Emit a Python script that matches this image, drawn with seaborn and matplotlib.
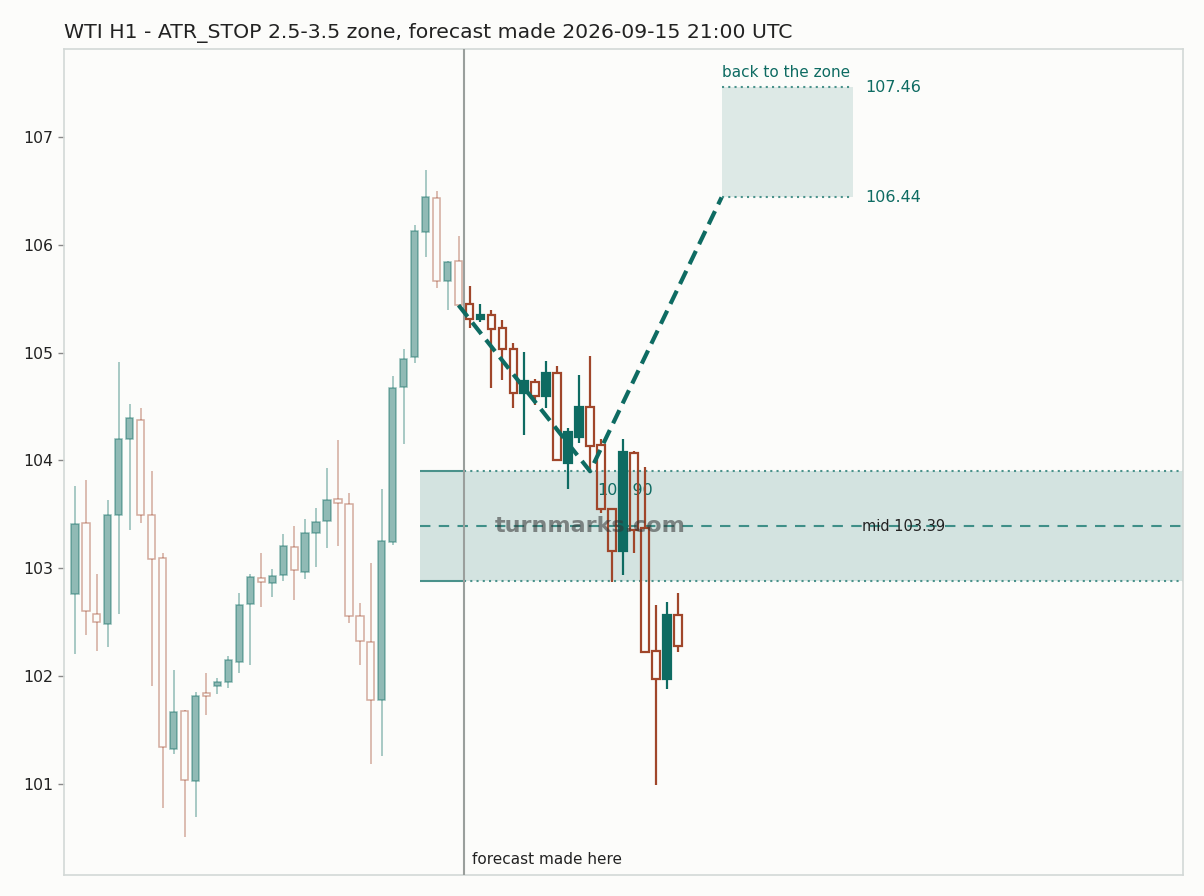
import numpy as np
import pandas as pd
import seaborn as sns
import matplotlib.pyplot as plt
from matplotlib.patches import Rectangle
import matplotlib.transforms as mtransforms

# history candles (36 bars, H1)
h_open = [102.76, 103.42, 102.58, 102.48, 103.49, 104.20, 104.38, 103.49, 103.10, 101.32,
          101.68, 101.03, 101.84, 101.91, 101.95, 102.13, 102.67, 102.91, 102.86, 102.94,
          103.20, 102.97, 103.33, 103.44, 103.64, 103.60, 102.56, 102.32, 101.78, 103.24,
          104.68, 104.96, 106.12, 106.43, 105.66, 105.85]
h_high = [103.76, 103.82, 102.95, 103.63, 104.91, 104.52, 104.49, 103.90, 103.14, 102.06,
          101.69, 101.85, 102.03, 101.98, 102.19, 102.77, 102.95, 103.14, 102.99, 103.32,
          103.39, 103.46, 103.56, 103.93, 104.19, 103.70, 102.68, 103.05, 103.74, 104.78,
          105.03, 106.18, 106.69, 106.50, 105.85, 106.08]
h_low = [102.21, 102.38, 102.23, 102.27, 102.58, 103.36, 103.42, 101.91, 100.78, 101.28,
         100.51, 100.69, 101.64, 101.83, 101.89, 102.03, 102.10, 102.64, 102.73, 102.88,
         102.71, 102.90, 103.01, 103.19, 103.21, 102.49, 102.10, 101.19, 101.26, 103.22,
         104.15, 104.90, 105.89, 105.60, 105.40, 105.42]
h_close = [103.41, 102.60, 102.50, 103.49, 104.20, 104.39, 103.49, 103.09, 101.34, 101.67,
           101.04, 101.82, 101.82, 101.95, 102.15, 102.66, 102.92, 102.87, 102.93, 103.21,
           102.98, 103.33, 103.43, 103.63, 103.61, 102.56, 102.33, 101.78, 103.25, 104.67,
           104.94, 106.13, 106.44, 105.66, 105.84, 105.44]

# candles after the forecast time (20 bars)
f_open = [105.45, 105.31, 105.35, 105.23, 105.03, 104.63, 104.73, 104.60, 104.81, 103.98,
          104.22, 104.50, 104.14, 103.55, 103.16, 104.07, 103.37, 102.23, 101.97, 102.57]
f_high = [105.62, 105.45, 105.40, 105.30, 105.09, 105.01, 104.76, 104.92, 104.88, 104.30,
          104.79, 104.97, 104.20, 103.56, 104.20, 104.09, 103.94, 102.66, 102.69, 102.77]
f_low = [105.23, 105.28, 104.67, 104.75, 104.49, 104.24, 104.51, 104.49, 104.00, 103.74,
         104.16, 103.91, 103.51, 102.87, 102.94, 103.14, 102.22, 100.99, 101.88, 102.22]
f_close = [105.31, 105.35, 105.22, 105.03, 104.63, 104.74, 104.60, 104.81, 104.00, 104.26,
           104.50, 104.13, 103.55, 103.16, 104.08, 103.36, 102.22, 101.97, 102.57, 102.28]

zone_low = 102.88
zone_high = 103.90
zone_mid = 103.39
target_low = 106.44
target_high = 107.46

# projected path: last close -> zone top -> target
path_idx = [35, 47, 59]
path_price = [105.44, 103.90, 106.44]

title = "WTI H1 - ATR_STOP 2.5-3.5 zone, forecast made 2026-09-15 21:00 UTC"

UP = "#0e6b62"
DOWN = "#a0462a"
BG = "#fcfcfa"

sns.set_theme(style="white")
plt.rcParams['font.family'] = ['DejaVu Sans']

fig = plt.figure(figsize=(12.04, 8.96), dpi=100, facecolor=BG)
ax = fig.add_axes([64/1204, 1-875/896, 1119/1204, 826/896])
ax.set_facecolor(BG)

hist = pd.DataFrame({"open": h_open, "high": h_high, "low": h_low, "close": h_close})
hist["idx"] = np.arange(len(hist))
fut = pd.DataFrame({"open": f_open, "high": f_high, "low": f_low, "close": f_close})
fut["idx"] = np.arange(len(fut)) + len(hist)
t0 = len(hist) - 0.5


def candles(df, alpha, lw, width, z):
    top = df[["open", "close"]].max(axis=1)
    bot = df[["open", "close"]].min(axis=1)
    up = df["close"] >= df["open"]
    col = np.where(up, UP, DOWN)
    ax.vlines(df["idx"], top, df["high"], colors=col, lw=lw, alpha=alpha, zorder=z)
    ax.vlines(df["idx"], df["low"], bot, colors=col, lw=lw, alpha=alpha, zorder=z)
    h = (top - bot).clip(lower=0.012)
    ax.bar(df["idx"][up], h[up], bottom=bot[up], width=width, color=UP,
           edgecolor=UP, lw=lw, alpha=alpha, zorder=z)
    ax.bar(df["idx"][~up], h[~up], bottom=bot[~up], width=width, facecolor="none",
           edgecolor=DOWN, lw=lw, alpha=alpha, zorder=z)


# zone band
zx0 = t0 - 4
ax.add_patch(Rectangle((zx0, zone_low), 200, zone_high - zone_low,
                       facecolor=UP, alpha=0.17, lw=0, zorder=1))
ax.hlines([zone_low, zone_high], zx0, t0, colors="#4a928b", lw=1.5, zorder=2)
ax.hlines([zone_low, zone_high], t0, 200, colors="#4a928b", lw=1.5,
          linestyles=(0, (1, 2)), zorder=2)
ax.hlines(zone_mid, zx0, 200, colors="#3f8f88", lw=1.5, linestyles=(0, (5, 4)), zorder=2)
ax.text(47.7, zone_high - 0.18, f"{zone_high:.2f}", color=UP, fontsize=11.5,
        va="center", ha="left", zorder=2.5)
ax.text(71.8, zone_mid, f"mid {zone_mid:.2f}", color="#222222", fontsize=10.5,
        va="center", ha="left", zorder=6)

# target box
tx0, tx1 = 59, 71
ax.add_patch(Rectangle((tx0, target_low), tx1 - tx0, target_high - target_low,
                       facecolor=UP, alpha=0.13, lw=0, zorder=1))
ax.hlines([target_low, target_high], tx0, tx1, colors="#4a928b", lw=1.5,
          linestyles=(0, (1, 2)), zorder=2)
ax.text(tx1 + 1.1, target_high, f"{target_high:.2f}", color=UP, fontsize=11.5,
        va="center", ha="left")
ax.text(tx1 + 1.1, target_low, f"{target_low:.2f}", color=UP, fontsize=11.5,
        va="center", ha="left")
ax.text(tx0, target_high + 0.07, "back to the zone", color=UP, fontsize=11,
        va="bottom", ha="left")

candles(hist, 0.45, 1.1, 0.66, 3)
candles(fut, 1.0, 1.6, 0.7, 4)

# forecast line
ax.axvline(t0, color="#9a9f9c", lw=1.5, zorder=5)
trans = mtransforms.blended_transform_factory(ax.transData, ax.transAxes)
ax.text(t0 + 0.7, 0.01, "forecast made here", transform=trans, fontsize=11,
        color="#222222", va="bottom", ha="left")

sns.lineplot(x=path_idx, y=path_price, ax=ax, color=UP, lw=3,
             linestyle=(0, (3.5, 1.8)), zorder=7)

ax.text(47, zone_mid, "turnmarks.com", fontsize=16, fontweight="bold",
        color="#333333", alpha=0.55, ha="center", va="center", zorder=8)

ax.set_xlim(-1, 101.1)
ax.set_ylim(100.156, 107.816)
ax.set_xticks([])
ax.set_yticks([101, 102, 103, 104, 105, 106, 107])
ax.tick_params(axis="y", labelsize=11.3, length=4, width=1, color="#888888",
               left=True, labelcolor="#222222")
for s in ax.spines.values():
    s.set_color("#d3d8d6")
    s.set_linewidth(1.2)
ax.set_xlabel("")
ax.set_ylabel("")
ax.set_title(title, loc="left", fontsize=14.65, color="#222222", pad=8)

fig.savefig("out.png", dpi=100, facecolor=BG)
